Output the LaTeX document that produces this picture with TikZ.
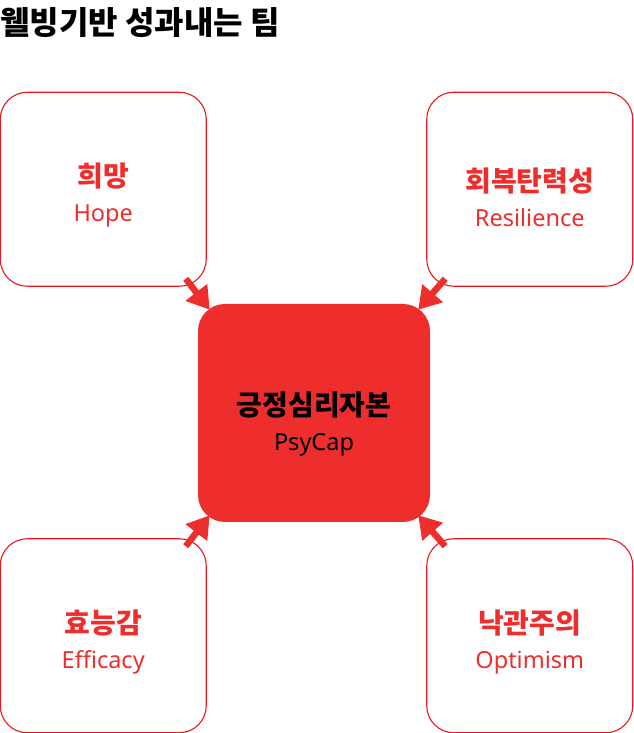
\documentclass[tikz,border=0pt]{standalone}
\usepackage{fontspec}
\setmainfont{Noto Sans CJK KR}
\newfontfamily\latinfont{Noto Sans}
\usetikzlibrary{arrows.meta,positioning,calc}
\usepackage{xcolor}
\definecolor{capred}{HTML}{EE2D2D}
\definecolor{edgered}{HTML}{E8191F}
\newcommand{\kolbl}[1]{{\fontsize{28}{35}\selectfont\bfseries #1}}
\newcommand{\enlbl}[1]{{\latinfont\fontsize{23.5}{35}\selectfont #1}}

\begin{document}
\begin{tikzpicture}[
  x=1pt, y=1pt,
  font=\fontsize{23.5}{35}\selectfont,
  petal/.style={draw=edgered, line width=1.1pt, rounded corners=27pt,
                minimum width=206pt, minimum height=194pt},
  core/.style={fill=capred, rounded corners=27pt, minimum width=232pt,
               minimum height=218pt},
  tag/.style={align=center, inner sep=0pt, text=capred},
  flow/.style={-{Triangle[length=22pt,width=26pt]}, line width=6.5pt, draw=capred},
]
\useasboundingbox (0,0) rectangle (634,733);

\node[anchor=base west, inner sep=0pt, font=\fontsize{32}{38}\selectfont\bfseries]
  (title) at (0,698) {웰빙기반 성과내는 팀};

\node[core] (cap) at (314,320) {};
\node[petal, above left=17pt and -9pt of cap] (hope) {};
\node[petal, above right=17pt and -4pt of cap] (resil) {};
\node[petal, below left=16pt and -9pt of cap] (eff) {};
\node[petal, below right=16pt and -4pt of cap] (opt) {};

\node[tag, text=black] (captxt) at ([yshift=-11pt]cap.center) {\kolbl{긍정심리자본}\\\enlbl{PsyCap}};
\node[tag] (hopetxt) at ([yshift=-6pt]hope.center) {\kolbl{희망}\\\enlbl{Hope}};
\node[tag] (resiltxt) at ([yshift=-8pt]resil.center) {\kolbl{회복탄력성}\\\enlbl{Resilience}};
\node[tag] (efftxt) at ([yshift=-6pt]eff.center) {\kolbl{효능감}\\\enlbl{Efficacy}};
\node[tag] (opttxt) at ([yshift=-6pt]opt.center) {\kolbl{낙관주의}\\\enlbl{Optimism}};

\draw[flow] ($(hope.south east)+(-21,8)$) -- ($(cap.north west)+(12,-6)$);
\draw[flow] ($(resil.south west)+(19,8)$) -- ($(cap.north east)+(-12,-6)$);
\draw[flow] ($(eff.north east)+(-21,-8)$) -- ($(cap.south west)+(12,7)$);
\draw[flow] ($(opt.north west)+(19,-8)$) -- ($(cap.south east)+(-12,7)$);

\end{tikzpicture}
\end{document}
